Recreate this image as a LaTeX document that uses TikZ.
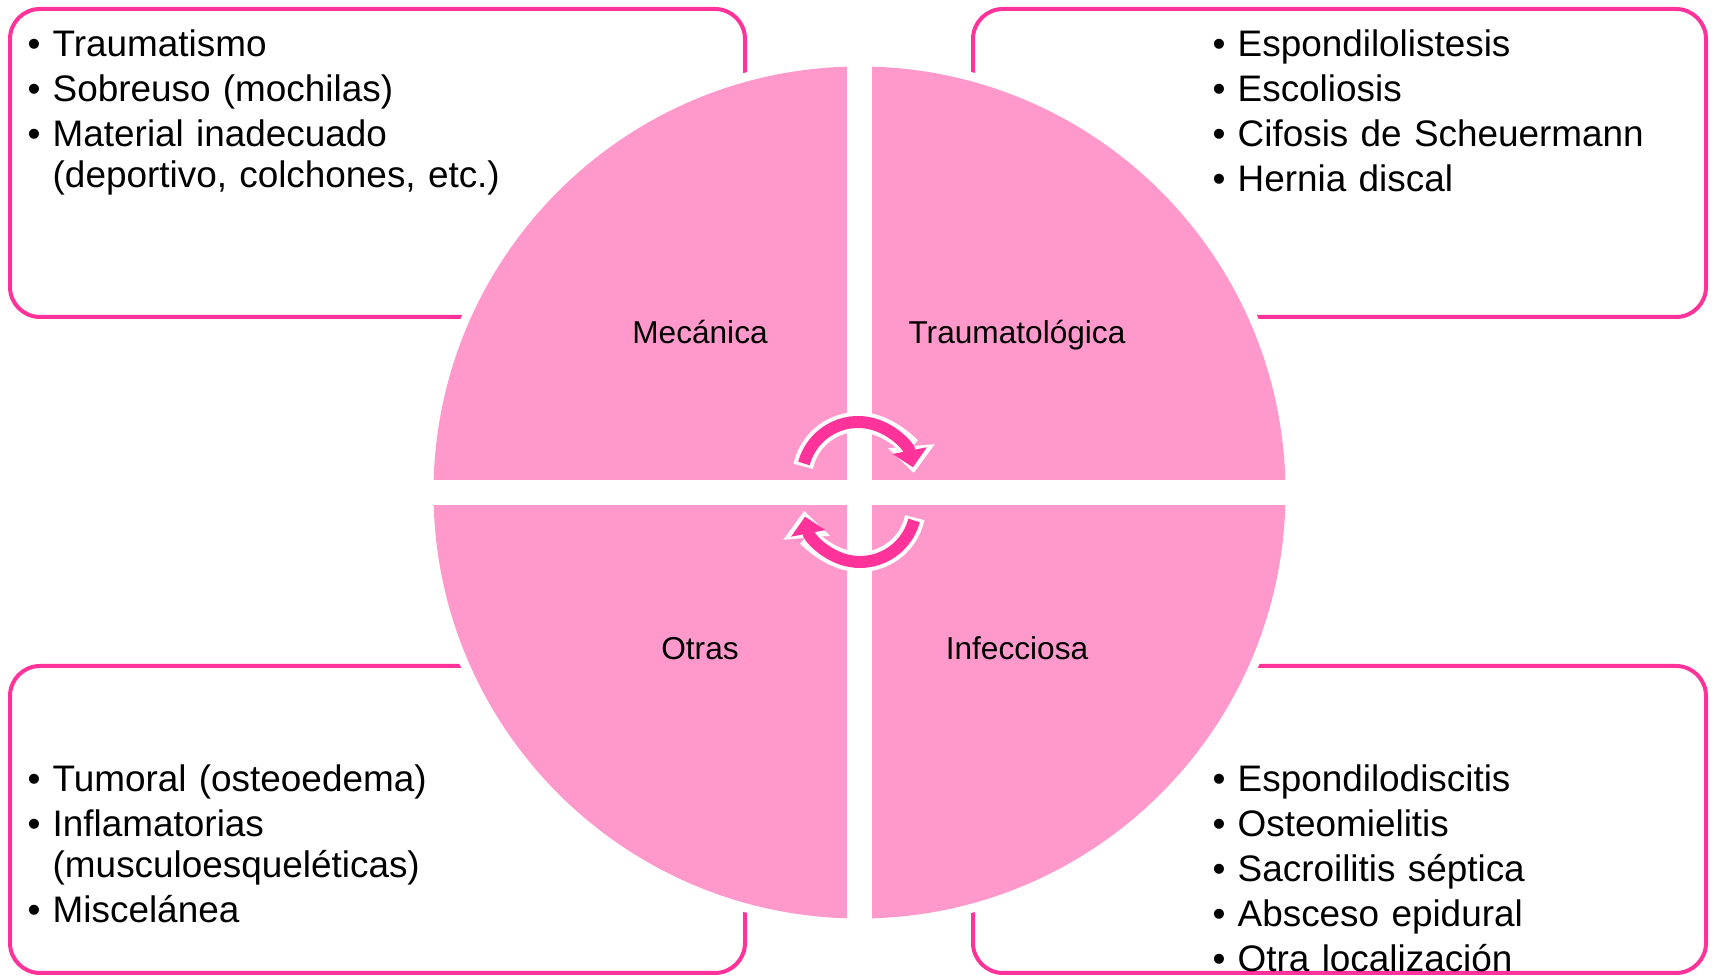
\documentclass[tikz,border=0pt]{standalone}
\usepackage{fontspec}
\setmainfont{Liberation Sans}
\usepackage{xcolor}
\usetikzlibrary{arrows.meta}

\definecolor{rosa}{HTML}{FF99CC}
\definecolor{fucsia}{HTML}{FF3399}

\newcommand\bul[1]{\hangindent=2.5mm\hangafter=1\noindent\makebox[2.5mm][l]{\textbullet}#1\par}

\begin{document}
\begin{tikzpicture}[
  caja/.style={draw=fucsia,line width=0.4mm,rounded corners=3mm},
  lista/.style={anchor=base west,inner sep=0pt,text width=7cm,align=left,
    font=\fontsize{10.5}{11.45}\selectfont,
    execute at begin node={\setlength\parskip{1.35pt}\lineskiplimit=-\maxdimen}},
  etiqueta/.style={anchor=base,inner sep=0pt,font=\fontsize{9}{11}\selectfont},
  flecha/.style={line width=1.2mm,fucsia,-{Triangle[length=1.7mm,width=3.4mm]}},
  borde/.style={line width=2mm,white,-{Triangle[length=2.7mm,width=4.5mm]}}]
  \useasboundingbox[fill=white] (0,0) rectangle (17.14,9.76);
  % cuadros de texto
  \draw[caja] (0.10,9.67) rectangle (7.45,6.59);
  \draw[caja] (9.73,9.67) rectangle (17.06,6.59);
  \draw[caja] (0.10,3.10) rectangle (7.45,0.03);
  \draw[caja] (9.73,3.10) rectangle (17.06,0.03);
  % circulo en cuatro partes
  \coordinate (c) at (8.595,4.835);
  \fill[white] (c) circle[radius=4.35];
  \fill[rosa] (c) circle[radius=4.26];
  \fill[white] ([xshift=-1.25mm,yshift=-4.3cm]c) rectangle ([xshift=1.25mm,yshift=4.3cm]c);
  \fill[white] ([xshift=-4.3cm,yshift=-1.25mm]c) rectangle ([xshift=4.3cm,yshift=1.25mm]c);
  % flechas del ciclo
  \coordinate (fa) at (8.58,4.98);
  \coordinate (fb) at (8.60,4.70);
  \draw[borde] ([shift={(168:0.56)}]fa) arc[start angle=168,end angle=5,radius=0.56];
  \draw[flecha] ([shift={(165:0.56)}]fa) arc[start angle=165,end angle=11,radius=0.56];
  \draw[borde] ([shift={(348:0.56)}]fb) arc[start angle=348,end angle=185,radius=0.56];
  \draw[flecha] ([shift={(345:0.56)}]fb) arc[start angle=345,end angle=191,radius=0.56];
  % rotulos
  \node[etiqueta] (mec) at (7.00,6.32) {Mecánica};
  \node[etiqueta] (tra) at (10.17,6.32) {Traumatológica};
  \node[etiqueta] (otr) at (7.00,3.16) {Otras};
  \node[etiqueta] (inf) at (10.17,3.16) {Infecciosa};
  % listas
  \node[lista] (lmec) at (0.27,9.19) {\bul{Traumatismo}\bul{Sobreuso (mochilas)}\bul{Material inadecuado\newline(deportivo, colchones, etc.)}};
  \node[lista] (ltra) at (12.12,9.195) {\bul{Espondilolistesis}\bul{Escoliosis}\bul{Cifosis de Scheuermann}\bul{Hernia discal}};
  \node[lista] (lotr) at (0.27,1.84) {\bul{Tumoral (osteoedema)}\bul{Inflamatorias\newline(musculoesqueléticas)}\bul{Miscelánea}};
  \node[lista] (linf) at (12.12,1.84) {\bul{Espondilodiscitis}\bul{Osteomielitis}\bul{Sacroilitis séptica}\bul{Absceso epidural}\bul{Otra localización}};
\end{tikzpicture}
\end{document}
